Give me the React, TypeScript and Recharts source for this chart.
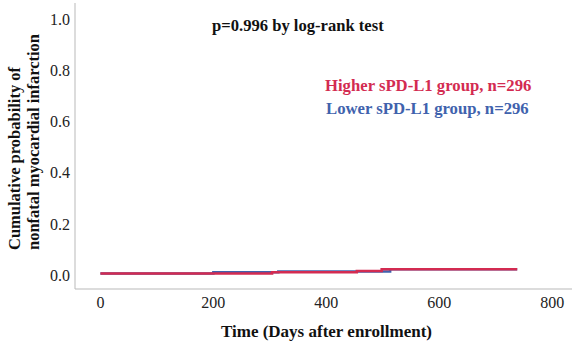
import { LineChart, Line, XAxis, YAxis } from "recharts";

// Kaplan-Meier style cumulative incidence
const higherDays = [0, 304, 454, 498, 738];
const higherProb = [0.006, 0.011, 0.0155, 0.022, 0.022];
const lowerDays = [0, 200, 315, 513, 738];
const lowerProb = [0.006, 0.011, 0.0135, 0.022, 0.022];

const xTicks = [0, 200, 400, 600, 800];
const yTicks = [0, 0.2, 0.4, 0.6, 0.8, 1.0];

const higherData = higherDays.map((d, i) => ({ day: d, prob: higherProb[i] }));
const lowerData = lowerDays.map((d, i) => ({ day: d, prob: lowerProb[i] }));

const RED = "#d32b51";
const BLUE = "#4062ad";
const AXIS = "#b9b9b9";
const SERIF = '"Liberation Serif", "Times New Roman", serif';

// two-line rotated title, both lines starting at the same baseline end
const YTitle = () => {
  const by = 250;
  return (
    <text
      transform={`rotate(-90, 24, ${by})`}
      x={24}
      y={by}
      textAnchor="start"
      fontFamily={SERIF}
      fontWeight="bold"
      fontSize={16.5}
      fill="#111"
    >
      <tspan x={24} dy={-4}>Cumulative probability of</tspan>
      <tspan x={24} dy={19}>nonfatal myocardial infarction</tspan>
    </text>
  );
};

export default function App() {
  return (
    <div style={{ position: "absolute", left: 0, top: 0, width: 574, height: 341, background: "#fff" }}>
      <LineChart width={574} height={341} margin={{ top: 3, right: 2, left: 0, bottom: 0 }}>
        <XAxis
          type="number"
          dataKey="day"
          domain={[-45, 835]}
          ticks={xTicks}
          allowDataOverflow
          height={52}
          tickSize={0}
          tickMargin={8}
          stroke={AXIS}
          tick={{ fill: "#222", fontSize: 16, fontFamily: SERIF }}
          label={{
            value: "Time (Days after enrollment)",
            position: "insideBottom",
            offset: 4,
            dx: 3,
            fill: "#111",
            fontSize: 17,
            fontWeight: "bold",
            fontFamily: SERIF,
          }}
        />
        <YAxis
          type="number"
          domain={[-0.055, 1.065]}
          ticks={yTicks}
          allowDataOverflow
          width={75}
          tickSize={0}
          tickMargin={5}
          stroke={AXIS}
          tickFormatter={(v: number) => v.toFixed(1)}
          tick={{ fill: "#222", fontSize: 16, fontFamily: SERIF }}
          label={{ content: YTitle }}
        />
        <Line
          data={lowerData}
          dataKey="prob"
          type="stepAfter"
          stroke={BLUE}
          strokeWidth={2.5}
          dot={false}
          isAnimationActive={false}
        />
        <Line
          data={higherData}
          dataKey="prob"
          type="stepAfter"
          stroke={RED}
          strokeWidth={2.5}
          dot={false}
          isAnimationActive={false}
        />
      </LineChart>
      <div
        style={{
          position: "absolute",
          left: 212,
          top: 16,
          fontFamily: SERIF,
          fontWeight: "bold",
          fontSize: 16.6,
          color: "#111",
          whiteSpace: "nowrap",
        }}
      >
        p=0.996 by log-rank test
      </div>
      <div
        style={{
          position: "absolute",
          left: 325,
          top: 74,
          fontFamily: SERIF,
          fontWeight: "bold",
          fontSize: 16.7,
          lineHeight: "23px",
          whiteSpace: "nowrap",
        }}
      >
        <div style={{ color: RED }}>Higher sPD-L1 group, n=296</div>
        <div style={{ color: BLUE, marginLeft: 1 }}>Lower sPD-L1 group, n=296</div>
      </div>
    </div>
  );
}
